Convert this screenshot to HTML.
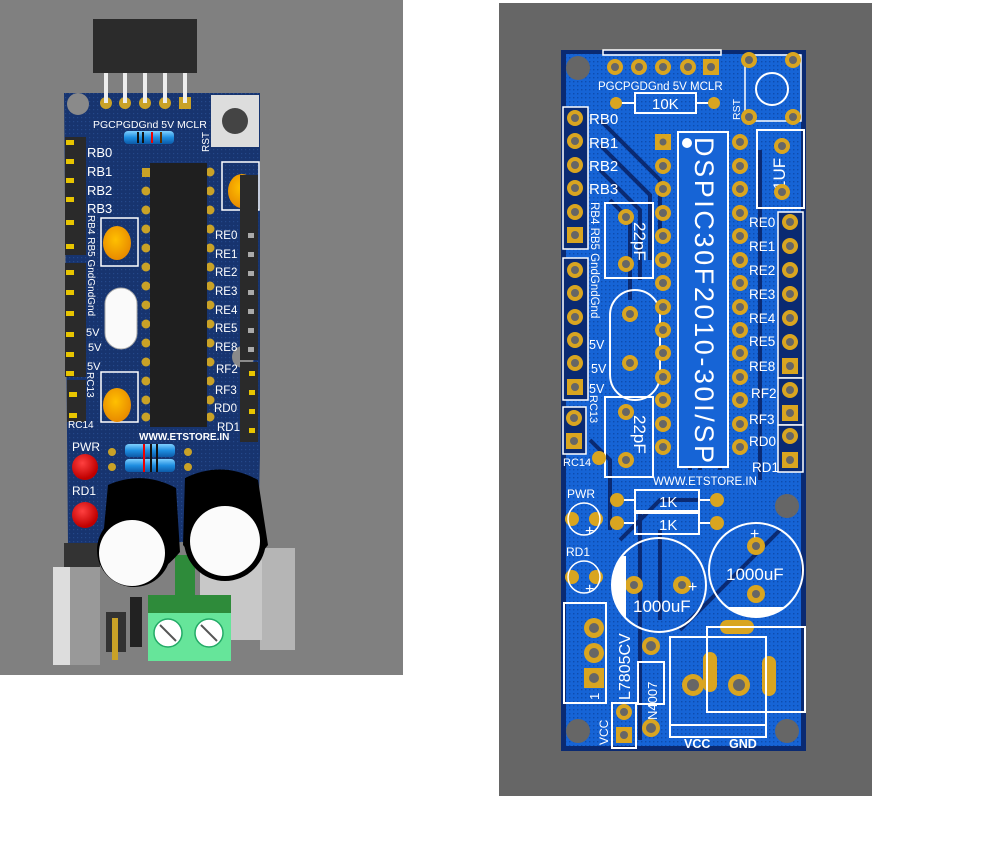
<!DOCTYPE html>
<html><head><meta charset="utf-8"><style>
html,body{margin:0;padding:0;background:#fff;}
svg{display:block;}
text{font-family:"Liberation Sans",sans-serif;fill:#fff;}
</style></head><body>
<svg width="994" height="862" viewBox="0 0 994 862" xmlns="http://www.w3.org/2000/svg">
<defs>
<pattern id="dots" width="4" height="4" patternUnits="userSpaceOnUse"><rect width="4" height="4" fill="#1664d6"/><rect x="1" y="1" width="1.4" height="1.4" fill="#0d4cae"/></pattern>
<pattern id="ndots" width="4" height="4" patternUnits="userSpaceOnUse"><rect width="4" height="4" fill="#17346f"/><rect x="1" y="1" width="1.2" height="1.2" fill="#24488a"/></pattern>
<linearGradient id="res" x1="0" y1="0" x2="0" y2="1"><stop offset="0" stop-color="#7fd0ff"/><stop offset="0.5" stop-color="#1e8ee0"/><stop offset="1" stop-color="#0c5aa8"/></linearGradient>
<radialGradient id="cap" cx="0.45" cy="0.4" r="0.6"><stop offset="0" stop-color="#ffc000"/><stop offset="1" stop-color="#e88a00"/></radialGradient>
<radialGradient id="led" cx="0.4" cy="0.35" r="0.6"><stop offset="0" stop-color="#ff4040"/><stop offset="1" stop-color="#c00000"/></radialGradient>
</defs>

<!-- LEFT PANEL -->
<rect x="0" y="0" width="403" height="675" fill="#808080"/>
<rect x="93" y="19" width="104" height="54" fill="#2b2b2b"/>
<path d="M64 93 L260 93 L260 455 L258 540 L68 545 L64 93Z" fill="url(#ndots)"/>
<circle cx="78" cy="104" r="11" fill="#8a8a8a"/>
<circle cx="243" cy="357" r="11" fill="#8a8a8a"/>
<g fill="#c9a227"><circle cx="106" cy="103" r="6"/><circle cx="125" cy="103" r="6"/><circle cx="145" cy="103" r="6"/><circle cx="165" cy="103" r="6"/><rect x="179" y="97" width="12" height="12"/></g>
<g fill="#eee"><rect x="104" y="73" width="4" height="30"/><rect x="123" y="73" width="4" height="30"/><rect x="143" y="73" width="4" height="30"/><rect x="163" y="73" width="4" height="30"/><rect x="183" y="73" width="4" height="30"/></g>
<text x="93" y="128" font-size="10.5">PGCPGDGnd 5V MCLR</text>
<rect x="124" y="131" width="50" height="13" rx="4" fill="url(#res)"/>
<rect x="137" y="132" width="2" height="11" fill="#111"/><rect x="142" y="132" width="2" height="11" fill="#111"/><rect x="151" y="132" width="2" height="11" fill="#e00"/><rect x="160" y="132" width="2" height="11" fill="#5a3000"/>
<rect x="211" y="95" width="48" height="52" fill="#ddd"/>
<circle cx="235" cy="121" r="13" fill="#444"/>
<text x="0" y="0" font-size="10" transform="translate(209,152) rotate(-90)">RST</text>
<rect x="65" y="137" width="21" height="118" fill="#2a2a2a"/>
<rect x="65" y="263" width="21" height="114" fill="#2a2a2a"/>
<rect x="67" y="380" width="19" height="42" fill="#2a2a2a"/>
<g fill="#e8c500">
<rect x="66" y="140" width="8" height="5"/><rect x="66" y="159" width="8" height="5"/><rect x="66" y="178" width="8" height="5"/><rect x="66" y="197" width="8" height="5"/><rect x="66" y="220" width="8" height="5"/><rect x="66" y="244" width="8" height="5"/>
<rect x="66" y="270" width="8" height="5"/><rect x="66" y="290" width="8" height="5"/><rect x="66" y="311" width="8" height="5"/><rect x="66" y="332" width="8" height="5"/><rect x="66" y="352" width="8" height="5"/><rect x="66" y="371" width="8" height="5"/>
<rect x="69" y="392" width="8" height="5"/><rect x="69" y="413" width="8" height="5"/>
</g>
<g font-size="13"><text x="87" y="157">RB0</text><text x="87" y="176">RB1</text><text x="87" y="195">RB2</text><text x="87" y="213">RB3</text></g>
<text font-size="10" transform="translate(88,215) rotate(90)">RB4 RB5 GndGndGnd</text>
<g font-size="11"><text x="86" y="336">5V</text><text x="88" y="351">5V</text><text x="87" y="370">5V</text></g>
<text font-size="10" transform="translate(87,372) rotate(90)">RC13</text>
<text x="68" y="428" font-size="10">RC14</text>
<g fill="#c9a227">
<rect x="142" y="168" width="9" height="9"/>
<circle cx="146" cy="191" r="4.5"/><circle cx="146" cy="210" r="4.5"/><circle cx="146" cy="229" r="4.5"/><circle cx="146" cy="248" r="4.5"/><circle cx="146" cy="267" r="4.5"/><circle cx="146" cy="286" r="4.5"/><circle cx="146" cy="305" r="4.5"/><circle cx="146" cy="324" r="4.5"/><circle cx="146" cy="343" r="4.5"/><circle cx="146" cy="362" r="4.5"/><circle cx="146" cy="381" r="4.5"/><circle cx="146" cy="400" r="4.5"/><circle cx="146" cy="417" r="4.5"/>
<circle cx="210" cy="172" r="4.5"/><circle cx="210" cy="191" r="4.5"/><circle cx="210" cy="210" r="4.5"/><circle cx="210" cy="229" r="4.5"/><circle cx="210" cy="248" r="4.5"/><circle cx="210" cy="267" r="4.5"/><circle cx="210" cy="286" r="4.5"/><circle cx="210" cy="305" r="4.5"/><circle cx="210" cy="324" r="4.5"/><circle cx="210" cy="343" r="4.5"/><circle cx="210" cy="362" r="4.5"/><circle cx="210" cy="381" r="4.5"/><circle cx="210" cy="400" r="4.5"/><circle cx="210" cy="417" r="4.5"/>
</g>
<rect x="150" y="163" width="57" height="264" fill="#1f1f1f"/>
<rect x="101" y="218" width="37" height="48" fill="none" stroke="#fff" stroke-width="1.5"/>
<ellipse cx="117" cy="243" rx="14" ry="17" fill="url(#cap)"/>
<rect x="101" y="372" width="37" height="50" fill="none" stroke="#fff" stroke-width="1.5"/>
<ellipse cx="117" cy="405" rx="14" ry="17" fill="url(#cap)"/>
<rect x="222" y="162" width="37" height="48" fill="none" stroke="#fff" stroke-width="1.5"/>
<ellipse cx="242" cy="191" rx="14" ry="17" fill="url(#cap)"/>
<rect x="105" y="288" width="32" height="61" rx="16" fill="#fafafa" stroke="#aaa"/>
<rect x="240" y="175" width="18" height="185" fill="#2a2a2a"/>
<rect x="240" y="362" width="18" height="80" fill="#2a2a2a"/>
<g fill="#aaa"><rect x="248" y="233" width="6" height="5"/><rect x="248" y="252" width="6" height="5"/><rect x="248" y="271" width="6" height="5"/><rect x="248" y="290" width="6" height="5"/><rect x="248" y="309" width="6" height="5"/><rect x="248" y="328" width="6" height="5"/><rect x="248" y="347" width="6" height="5"/></g>
<g fill="#e8c500"><rect x="249" y="371" width="6" height="5"/><rect x="249" y="390" width="6" height="5"/><rect x="249" y="409" width="6" height="5"/><rect x="249" y="428" width="6" height="5"/></g>
<g font-size="11.5"><text x="215" y="239">RE0</text><text x="215" y="258">RE1</text><text x="215" y="276">RE2</text><text x="215" y="295">RE3</text><text x="215" y="314">RE4</text><text x="215" y="332">RE5</text><text x="215" y="351">RE8</text><text x="216" y="373">RF2</text><text x="215" y="394">RF3</text><text x="214" y="412">RD0</text><text x="217" y="431">RD1</text></g>
<text x="139" y="440" font-size="10" font-weight="bold">WWW.ETSTORE.IN</text>
<rect x="125" y="444" width="50" height="13" rx="4" fill="url(#res)"/>
<rect x="125" y="459" width="50" height="13" rx="4" fill="url(#res)"/>
<rect x="143" y="444" width="2" height="28" fill="#e00"/><rect x="150" y="444" width="2" height="28" fill="#111"/><rect x="156" y="444" width="2" height="28" fill="#111"/>
<g fill="#c9a227"><circle cx="112" cy="452" r="4"/><circle cx="112" cy="467" r="4"/><circle cx="188" cy="452" r="4"/><circle cx="188" cy="467" r="4"/></g>
<text x="72" y="451" font-size="12">PWR</text>
<circle cx="85" cy="467" r="13" fill="url(#led)"/>
<text x="72" y="495" font-size="12">RD1</text>
<circle cx="85" cy="515" r="13" fill="url(#led)"/>
<rect x="260" y="548" width="35" height="102" fill="#b5b5b5"/>
<rect x="200" y="560" width="62" height="80" fill="#c8c8c8"/>
<rect x="64" y="543" width="36" height="30" fill="#333"/>
<rect x="53" y="567" width="47" height="98" fill="#ddd"/>
<rect x="70" y="567" width="30" height="98" fill="#999"/>
<rect x="106" y="612" width="20" height="40" fill="#333"/>
<rect x="112" y="618" width="6" height="42" fill="#c9a227"/>
<rect x="130" y="597" width="12" height="50" fill="#222"/>
<rect x="175" y="555" width="20" height="40" fill="#2e8b3a"/>
<rect x="148" y="595" width="83" height="20" fill="#2e8b3a"/>
<rect x="148" y="613" width="83" height="48" fill="#66e59a"/>
<circle cx="168" cy="633" r="14" fill="#fff" stroke="#2a6" stroke-width="1.5"/>
<circle cx="209" cy="633" r="14" fill="#fff" stroke="#2a6" stroke-width="1.5"/>
<line x1="160" y1="625" x2="176" y2="641" stroke="#555" stroke-width="2"/>
<line x1="201" y1="625" x2="217" y2="641" stroke="#555" stroke-width="2"/>
<path d="M108 485 Q142 470 176 488 L180 552 Q140 600 102 550 Z" fill="#000"/>
<circle cx="134" cy="550" r="37" fill="#000"/>
<circle cx="132" cy="553" r="33" fill="#fbfbfb"/>
<path d="M185 478 Q222 460 258 480 L268 545 Q225 600 183 545 Z" fill="#000"/>
<circle cx="225" cy="540" r="41" fill="#000"/>
<circle cx="225" cy="541" r="35" fill="#fbfbfb"/>

<!-- RIGHT PANEL -->
<rect x="499" y="3" width="373" height="793" fill="#666"/>
<rect x="561" y="50" width="245" height="701" fill="#0a2a72"/>
<rect x="566" y="54" width="235" height="692" fill="url(#dots)"/>
<g stroke="#0a2a72" stroke-width="4" fill="none">
<path d="M600 120 L660 180 L660 240"/><path d="M600 145 L650 195 L650 260"/><path d="M600 170 L640 210 L640 280"/><path d="M610 200 L630 220 L630 300"/>
<path d="M690 140 L690 470"/><path d="M700 140 L700 470"/><path d="M720 140 L720 470"/>
<path d="M620 540 L660 500 L700 500"/><path d="M680 630 L780 530"/><path d="M640 510 L640 740"/><path d="M660 530 L660 620"/>
<path d="M760 150 L760 480"/><path d="M590 440 L610 460 L610 530"/>
</g>
<circle cx="578" cy="68" r="12" fill="#666"/>
<circle cx="787" cy="506" r="12" fill="#666"/>
<circle cx="578" cy="731" r="12" fill="#666"/>
<circle cx="787" cy="731" r="12" fill="#666"/>
<rect x="603" y="50" width="118" height="5" fill="none" stroke="#fff" stroke-width="1.5"/>
<g fill="#d9a520"><circle cx="615" cy="67" r="8"/><circle cx="639" cy="67" r="8"/><circle cx="663" cy="67" r="8"/><circle cx="688" cy="67" r="8"/><rect x="703" y="59" width="16" height="16"/></g>
<g fill="#666"><circle cx="615" cy="67" r="4"/><circle cx="639" cy="67" r="4"/><circle cx="663" cy="67" r="4"/><circle cx="688" cy="67" r="4"/><circle cx="711" cy="67" r="4"/></g>
<text x="598" y="90" font-size="11.5">PGCPGDGnd 5V MCLR</text>
<rect x="635" y="93" width="61" height="20" fill="none" stroke="#fff" stroke-width="2"/>
<text x="652" y="109" font-size="15">10K</text>
<line x1="620" y1="103" x2="635" y2="103" stroke="#fff" stroke-width="2"/><line x1="696" y1="103" x2="710" y2="103" stroke="#fff" stroke-width="2"/>
<rect x="745" y="55" width="56" height="66" fill="none" stroke="#fff" stroke-width="1.5"/>
<circle cx="772" cy="89" r="16" fill="none" stroke="#fff" stroke-width="2"/>
<text font-size="10.5" transform="translate(740,120) rotate(-90)">RST</text>
<rect x="757" y="130" width="47" height="78" fill="none" stroke="#fff" stroke-width="2"/>
<text font-size="17" transform="translate(785,190) rotate(-90)">1UF</text>
<rect x="563" y="107" width="25" height="142" fill="#0a2a72" stroke="#fff" stroke-width="1.5"/>
<rect x="563" y="258" width="25" height="142" fill="#0a2a72" stroke="#fff" stroke-width="1.5"/>
<rect x="563" y="407" width="23" height="47" fill="#0a2a72" stroke="#fff" stroke-width="1.5"/>
<rect x="778" y="212" width="25" height="166" fill="#0a2a72" stroke="#fff" stroke-width="1.5"/>
<rect x="778" y="378" width="25" height="47" fill="#0a2a72" stroke="#fff" stroke-width="1.5"/>
<rect x="778" y="425" width="25" height="47" fill="#0a2a72" stroke="#fff" stroke-width="1.5"/>
<rect x="678" y="132" width="50" height="335" fill="#1664d6" stroke="#fff" stroke-width="2"/>
<circle cx="687" cy="143" r="5" fill="#fff"/>
<text font-size="27" transform="translate(695,137) rotate(90)" textLength="326" lengthAdjust="spacing">DSPIC30F2010-30I/SP</text>
<rect x="610" y="290" width="50" height="110" rx="25" fill="none" stroke="#fff" stroke-width="2"/>
<rect x="605" y="203" width="48" height="75" fill="none" stroke="#fff" stroke-width="2"/>
<text font-size="17" transform="translate(634,222) rotate(90)">22pF</text>
<rect x="605" y="397" width="48" height="80" fill="none" stroke="#fff" stroke-width="2"/>
<text font-size="17" transform="translate(634,415) rotate(90)">22pF</text>
<g fill="#d9a520">
<circle cx="575" cy="118" r="8"/><circle cx="575" cy="141" r="8"/><circle cx="575" cy="165" r="8"/><circle cx="575" cy="188" r="8"/><circle cx="575" cy="212" r="8"/><rect x="567" y="227" width="16" height="16"/>
<circle cx="575" cy="270" r="8"/><circle cx="575" cy="293" r="8"/><circle cx="575" cy="317" r="8"/><circle cx="575" cy="340" r="8"/><circle cx="575" cy="363" r="8"/><rect x="567" y="379" width="16" height="16"/>
<circle cx="574" cy="418" r="8"/><rect x="566" y="433" width="16" height="16"/>
<rect x="655" y="134" width="16" height="16"/>
<circle cx="663" cy="166" r="8"/><circle cx="663" cy="189" r="8"/><circle cx="663" cy="213" r="8"/><circle cx="663" cy="236" r="8"/><circle cx="663" cy="260" r="8"/><circle cx="663" cy="283" r="8"/><circle cx="663" cy="307" r="8"/><circle cx="663" cy="330" r="8"/><circle cx="663" cy="353" r="8"/><circle cx="663" cy="377" r="8"/><circle cx="663" cy="400" r="8"/><circle cx="663" cy="424" r="8"/><circle cx="663" cy="447" r="8"/>
<circle cx="740" cy="142" r="8"/><circle cx="740" cy="166" r="8"/><circle cx="740" cy="189" r="8"/><circle cx="740" cy="213" r="8"/><circle cx="740" cy="236" r="8"/><circle cx="740" cy="260" r="8"/><circle cx="740" cy="283" r="8"/><circle cx="740" cy="307" r="8"/><circle cx="740" cy="330" r="8"/><circle cx="740" cy="353" r="8"/><circle cx="740" cy="377" r="8"/><circle cx="740" cy="400" r="8"/><circle cx="740" cy="424" r="8"/><circle cx="740" cy="447" r="8"/>
<circle cx="790" cy="222" r="8"/><circle cx="790" cy="246" r="8"/><circle cx="790" cy="270" r="8"/><circle cx="790" cy="294" r="8"/><circle cx="790" cy="318" r="8"/><circle cx="790" cy="342" r="8"/><rect x="782" y="358" width="16" height="16"/><circle cx="790" cy="390" r="8"/><rect x="782" y="405" width="16" height="16"/><circle cx="790" cy="436" r="8"/><rect x="782" y="452" width="16" height="16"/>
<circle cx="749" cy="60" r="8"/><circle cx="793" cy="60" r="8"/><circle cx="749" cy="117" r="8"/><circle cx="793" cy="117" r="8"/>
<circle cx="782" cy="146" r="8"/><circle cx="782" cy="192" r="8"/>
<circle cx="626" cy="217" r="8"/><circle cx="626" cy="264" r="8"/>
<circle cx="630" cy="314" r="8"/><circle cx="630" cy="363" r="8"/>
<circle cx="626" cy="412" r="8"/><circle cx="626" cy="460" r="8"/>
<circle cx="616" cy="103" r="6"/><circle cx="714" cy="103" r="6"/>
<circle cx="599" cy="458" r="7"/>
<circle cx="617" cy="500" r="7"/><circle cx="617" cy="523" r="7"/><circle cx="717" cy="500" r="7"/><circle cx="717" cy="523" r="7"/>
<circle cx="572" cy="519" r="7"/><circle cx="596" cy="519" r="7"/><circle cx="572" cy="577" r="7"/><circle cx="596" cy="577" r="7"/>
<circle cx="634" cy="585" r="9"/><circle cx="682" cy="585" r="9"/>
<circle cx="756" cy="546" r="9"/><circle cx="756" cy="594" r="9"/>
<circle cx="594" cy="628" r="10"/><circle cx="594" cy="653" r="10"/><rect x="584" y="668" width="20" height="20"/>
<circle cx="651" cy="646" r="9"/><circle cx="651" cy="728" r="9"/>
<circle cx="624" cy="712" r="8"/><rect x="616" y="727" width="16" height="16"/>
<circle cx="693" cy="685" r="11"/><circle cx="739" cy="685" r="11"/>
<rect x="720" y="620" width="34" height="14" rx="7"/><rect x="703" y="652" width="14" height="40" rx="7"/><rect x="762" y="656" width="14" height="40" rx="7"/>
</g>
<g fill="#666">
<circle cx="575" cy="118" r="4"/><circle cx="575" cy="141" r="4"/><circle cx="575" cy="165" r="4"/><circle cx="575" cy="188" r="4"/><circle cx="575" cy="212" r="4"/><circle cx="575" cy="235" r="4"/>
<circle cx="575" cy="270" r="4"/><circle cx="575" cy="293" r="4"/><circle cx="575" cy="317" r="4"/><circle cx="575" cy="340" r="4"/><circle cx="575" cy="363" r="4"/><circle cx="575" cy="387" r="4"/>
<circle cx="574" cy="418" r="4"/><circle cx="574" cy="441" r="4"/>
<circle cx="663" cy="142" r="3.5"/><circle cx="663" cy="166" r="4"/><circle cx="663" cy="189" r="4"/><circle cx="663" cy="213" r="4"/><circle cx="663" cy="236" r="4"/><circle cx="663" cy="260" r="4"/><circle cx="663" cy="283" r="4"/><circle cx="663" cy="307" r="4"/><circle cx="663" cy="330" r="4"/><circle cx="663" cy="353" r="4"/><circle cx="663" cy="377" r="4"/><circle cx="663" cy="400" r="4"/><circle cx="663" cy="424" r="4"/><circle cx="663" cy="447" r="4"/>
<circle cx="740" cy="142" r="4"/><circle cx="740" cy="166" r="4"/><circle cx="740" cy="189" r="4"/><circle cx="740" cy="213" r="4"/><circle cx="740" cy="236" r="4"/><circle cx="740" cy="260" r="4"/><circle cx="740" cy="283" r="4"/><circle cx="740" cy="307" r="4"/><circle cx="740" cy="330" r="4"/><circle cx="740" cy="353" r="4"/><circle cx="740" cy="377" r="4"/><circle cx="740" cy="400" r="4"/><circle cx="740" cy="424" r="4"/><circle cx="740" cy="447" r="4"/>
<circle cx="790" cy="222" r="4"/><circle cx="790" cy="246" r="4"/><circle cx="790" cy="270" r="4"/><circle cx="790" cy="294" r="4"/><circle cx="790" cy="318" r="4"/><circle cx="790" cy="342" r="4"/><circle cx="790" cy="366" r="4"/><circle cx="790" cy="390" r="4"/><circle cx="790" cy="413" r="4"/><circle cx="790" cy="436" r="4"/><circle cx="790" cy="460" r="4"/>
<circle cx="749" cy="60" r="4"/><circle cx="793" cy="60" r="4"/><circle cx="749" cy="117" r="4"/><circle cx="793" cy="117" r="4"/>
<circle cx="782" cy="146" r="4"/><circle cx="782" cy="192" r="4"/>
<circle cx="626" cy="217" r="4"/><circle cx="626" cy="264" r="4"/><circle cx="630" cy="314" r="4"/><circle cx="630" cy="363" r="4"/><circle cx="626" cy="412" r="4"/><circle cx="626" cy="460" r="4"/>
<circle cx="594" cy="628" r="5"/><circle cx="594" cy="653" r="5"/><circle cx="594" cy="678" r="5"/>
<circle cx="651" cy="646" r="5"/><circle cx="651" cy="728" r="5"/><circle cx="624" cy="712" r="4"/><circle cx="624" cy="735" r="4"/>
<circle cx="693" cy="685" r="6"/><circle cx="739" cy="685" r="6"/>
<circle cx="634" cy="585" r="4"/><circle cx="682" cy="585" r="4"/><circle cx="756" cy="546" r="4"/><circle cx="756" cy="594" r="4"/>
</g>
<g font-size="15"><text x="589" y="124">RB0</text><text x="589" y="148">RB1</text><text x="589" y="171">RB2</text><text x="589" y="194">RB3</text></g>
<text font-size="11.5" transform="translate(591,202) rotate(90)">RB4 RB5 GndGndGnd</text>
<g font-size="12.5"><text x="589" y="349">5V</text><text x="591" y="373">5V</text><text x="589" y="393">5V</text></g>
<text font-size="11" transform="translate(590,395) rotate(90)">RC13</text>
<text x="563" y="466" font-size="11">RC14</text>
<g font-size="13.5"><text x="749" y="227">RE0</text><text x="749" y="251">RE1</text><text x="749" y="275">RE2</text><text x="749" y="299">RE3</text><text x="749" y="323">RE4</text><text x="749" y="346">RE5</text><text x="749" y="371">RE8</text><text x="751" y="398">RF2</text><text x="749" y="424">RF3</text><text x="749" y="446">RD0</text><text x="752" y="472">RD1</text></g>
<text x="653" y="485" font-size="11.5">WWW.ETSTORE.IN</text>
<rect x="635" y="490" width="64" height="21" fill="none" stroke="#fff" stroke-width="2"/>
<rect x="635" y="513" width="64" height="21" fill="none" stroke="#fff" stroke-width="2"/>
<text x="659" y="507" font-size="15">1K</text><text x="659" y="530" font-size="15">1K</text>
<line x1="624" y1="500" x2="635" y2="500" stroke="#fff" stroke-width="2"/><line x1="624" y1="523" x2="635" y2="523" stroke="#fff" stroke-width="2"/>
<line x1="699" y1="500" x2="710" y2="500" stroke="#fff" stroke-width="2"/><line x1="699" y1="523" x2="710" y2="523" stroke="#fff" stroke-width="2"/>
<text x="567" y="498" font-size="12">PWR</text>
<circle cx="584" cy="519" r="16" fill="none" stroke="#fff" stroke-width="1.5"/>
<text x="566" y="556" font-size="12">RD1</text>
<circle cx="584" cy="577" r="16" fill="none" stroke="#fff" stroke-width="1.5"/>
<text x="585" y="536" font-size="16">+</text><text x="585" y="594" font-size="16">+</text>
<circle cx="659" cy="585" r="47" fill="none" stroke="#fff" stroke-width="2"/>
<path d="M622 556 A47 47 0 0 0 626 618 L626 556 Z" fill="#fff"/>
<text x="633" y="612" font-size="17">1000uF</text><text x="688" y="592" font-size="16">+</text>
<circle cx="756" cy="570" r="47" fill="none" stroke="#fff" stroke-width="2"/>
<path d="M727 607 A47 47 0 0 0 786 607 Z" fill="#fff"/>
<text x="726" y="580" font-size="17">1000uF</text><text x="750" y="539" font-size="16">+</text>
<rect x="564" y="603" width="42" height="100" fill="none" stroke="#fff" stroke-width="2"/>
<text x="587" y="700" font-size="13" transform="rotate(-90 593 694)">1</text>
<text font-size="16" transform="translate(630,700) rotate(-90)">L7805CV</text>
<rect x="638" y="662" width="26" height="42" fill="none" stroke="#fff" stroke-width="2"/>
<text font-size="13" transform="translate(657,720) rotate(-90)">N4007</text>
<rect x="612" y="703" width="24" height="45" fill="none" stroke="#fff" stroke-width="2"/>
<text font-size="12" transform="translate(608,745) rotate(-90)">VCC</text>
<rect x="670" y="637" width="96" height="100" fill="none" stroke="#fff" stroke-width="2"/>
<rect x="707" y="627" width="98" height="85" fill="none" stroke="#fff" stroke-width="2"/>
<line x1="670" y1="725" x2="766" y2="725" stroke="#fff" stroke-width="2"/>
<text x="684" y="748" font-size="12.5" font-weight="bold">VCC</text>
<text x="729" y="748" font-size="12.5" font-weight="bold">GND</text>
</svg>
</body></html>
